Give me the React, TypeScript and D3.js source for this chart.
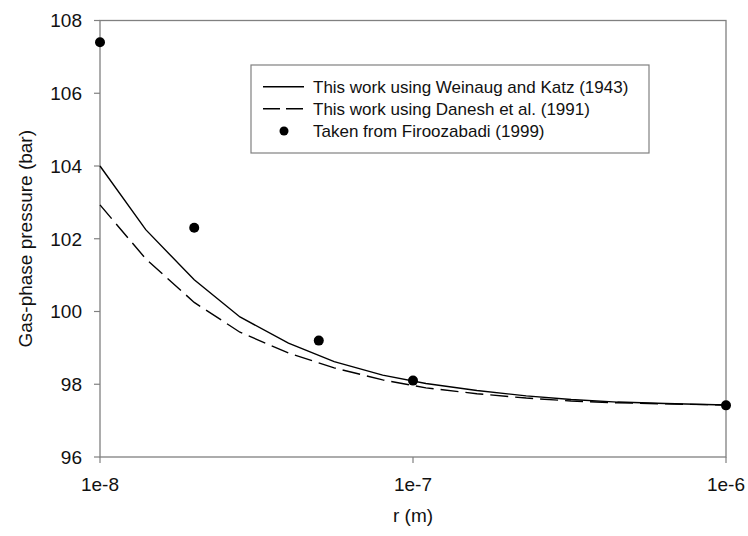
import React from 'react';
import * as d3 from 'd3';

// pore radius (m) for the model curves
const radii = [1e-8, 1.4e-8, 2e-8, 2.8e-8, 4e-8, 5.6e-8, 8e-8, 1.1e-7, 1.6e-7, 2.3e-7, 3.2e-7, 4.5e-7, 6.4e-7, 1e-6];
// gas-phase pressure (bar)
const weinaugKatz = [104.0, 102.25, 100.87, 99.85, 99.13, 98.62, 98.25, 98.02, 97.83, 97.68, 97.58, 97.51, 97.47, 97.43];
const danesh = [102.93, 101.45, 100.25, 99.43, 98.86, 98.45, 98.12, 97.9, 97.74, 97.62, 97.54, 97.49, 97.46, 97.43];

// literature points
const firoozR = [1e-8, 2e-8, 5e-8, 1e-7, 1e-6];
const firoozP = [107.4, 102.3, 99.2, 98.1, 97.42];

const xTicks = [1e-8, 1e-7, 1e-6];
const xTickLabels = ['1e-8', '1e-7', '1e-6'];
const yTicks = [96, 98, 100, 102, 104, 106, 108];

const legendLabels = [
  'This work using Weinaug and Katz (1943)',
  'This work using Danesh et al. (1991)',
  'Taken from Firoozabadi (1999)',
];

const width = 748;
const height = 536;
const font = 'Arial, "Liberation Sans", sans-serif';
const frame = '#808080';

const App = () => {
  const margin = { top: 20.5, right: 22, bottom: 79, left: 100 };

  const x = d3
    .scaleLog()
    .domain([1e-8, 1e-6])
    .range([margin.left, width - margin.right]);

  const y = d3
    .scaleLinear()
    .domain([96, 108])
    .range([height - margin.bottom, margin.top]);

  const line = d3
    .line<number>()
    .x((_, i) => x(radii[i]))
    .y(d => y(d));

  const x0 = margin.left;
  const x1 = width - margin.right;
  const y0 = height - margin.bottom;
  const y1 = margin.top;

  // legend layout
  const lg = { x: 251, y: 65, w: 398, h: 88 };
  const rowY = [86.7, 108.8, 131];

  return (
    <svg
      width={width}
      height={height}
      style={{ position: 'absolute', left: 0, top: 0, background: '#fff' }}
      fontFamily={font}
    >
      {/* frame */}
      <rect x={x0} y={y1} width={x1 - x0} height={y0 - y1} fill="none" stroke={frame} strokeWidth={1.3} />

      {/* y axis */}
      {yTicks.map(t => (
        <g key={t}>
          <line x1={x0 - 6} x2={x0} y1={y(t)} y2={y(t)} stroke={frame} strokeWidth={1.2} />
          <text x={82} y={y(t)} dy="0.36em" textAnchor="end" fontSize={19} fill="#111">
            {t}
          </text>
        </g>
      ))}

      {/* x axis */}
      {xTicks.map((t, i) => (
        <g key={t}>
          <line x1={x(t)} x2={x(t)} y1={y0} y2={y0 + 6} stroke={frame} strokeWidth={1.2} />
          <text x={x(t)} y={491} textAnchor="middle" fontSize={19} fill="#111">
            {xTickLabels[i]}
          </text>
        </g>
      ))}

      <text x={(x0 + x1) / 2} y={522} textAnchor="middle" fontSize={19} fill="#111">
        r (m)
      </text>
      <text
        transform={`translate(32, ${(y0 + y1) / 2}) rotate(-90)`}
        textAnchor="middle"
        fontSize={19}
        fill="#111"
      >
        Gas-phase pressure (bar)
      </text>

      {/* curves */}
      <path d={line(weinaugKatz) ?? ''} fill="none" stroke="#000" strokeWidth={1.4} />
      <path d={line(danesh) ?? ''} fill="none" stroke="#000" strokeWidth={1.4} strokeDasharray="18 7" />

      {firoozR.map((r, i) => (
        <circle key={r} cx={x(r)} cy={y(firoozP[i])} r={5} fill="#000" />
      ))}

      {/* legend */}
      <rect x={lg.x} y={lg.y} width={lg.w} height={lg.h} fill="#fff" stroke={frame} strokeWidth={1.2} />
      <line x1={263} x2={304} y1={rowY[0]} y2={rowY[0]} stroke="#000" strokeWidth={1.4} />
      <line x1={263} x2={304} y1={rowY[1]} y2={rowY[1]} stroke="#000" strokeWidth={1.4} strokeDasharray="17 6" />
      <circle cx={284} cy={rowY[2]} r={4.5} fill="#000" />
      {legendLabels.map((label, i) => (
        <text key={label} x={313} y={rowY[i]} dy="0.35em" fontSize={17} fill="#111">
          {label}
        </text>
      ))}
    </svg>
  );
};

export default App;
